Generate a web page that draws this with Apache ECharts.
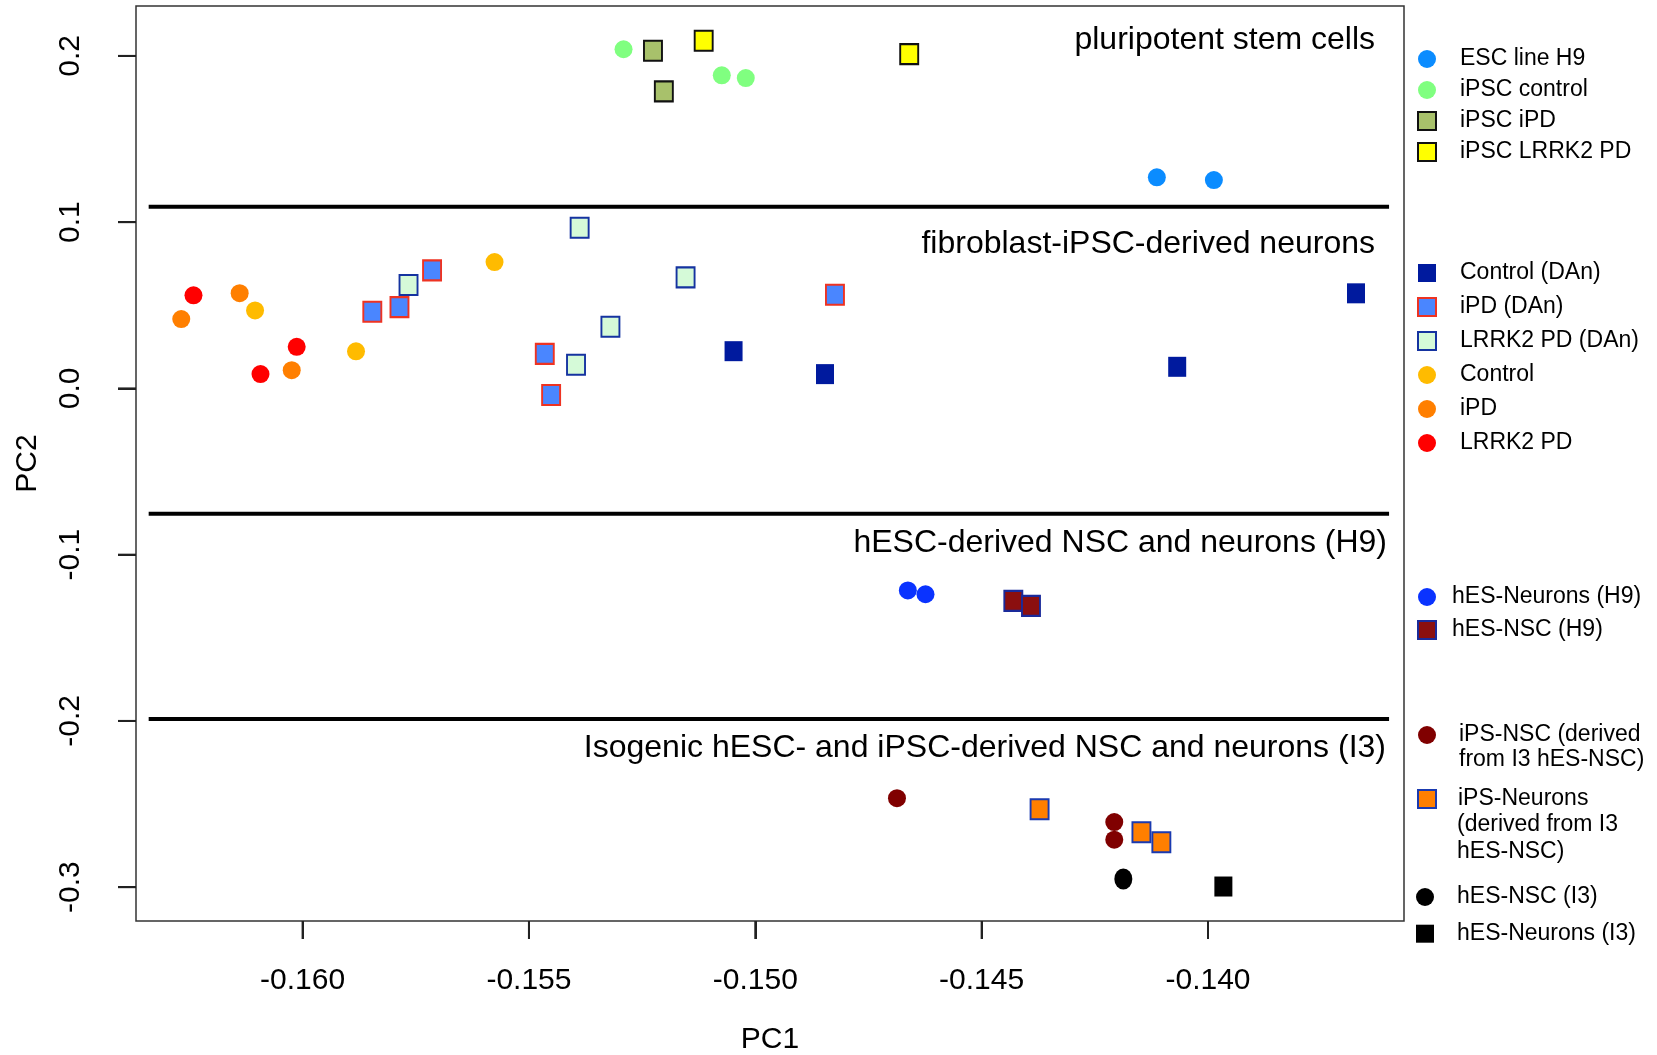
<!DOCTYPE html>
<html>
<head>
<meta charset="utf-8">
<title>PCA</title>
<script src="https://cdn.jsdelivr.net/npm/echarts@6/dist/echarts.min.js"></script>
<style>
  html, body { margin: 0; padding: 0; background: #fff; }
  #chart { width: 1657px; height: 1055px; }
</style>
</head>
<body>
<div id="chart"></div>
<script>
const FONT = '"Liberation Sans", Arial, sans-serif';

// axes
const xTicks = [-0.160, -0.155, -0.150, -0.145, -0.140];
const yTicks = [0.2, 0.1, 0.0, -0.1, -0.2, -0.3];
const xRange = [-0.16368, -0.13567];
const yRange = [-0.32034, 0.23002];

// group separators
const dividerY = [0.1093, -0.0754, -0.1988];
const dividerX = [-0.1634, -0.1360];
const regionNames = [
  'pluripotent stem cells',
  'fibroblast-iPSC-derived neurons',
  'hESC-derived NSC and neurons (H9)',
  'Isogenic hESC- and iPSC-derived NSC and neurons (I3)'
];

// pluripotent stem cells
const escH9 = [[-0.14113, 0.1270], [-0.13987, 0.1253]];
const ipscControl = [[-0.15291, 0.2040], [-0.15074, 0.1883], [-0.15021, 0.1867]];
const ipscIPD = [[-0.15226, 0.2031], [-0.15202, 0.1787]];
const ipscLRRK2 = [[-0.15114, 0.2091], [-0.14660, 0.2011]];
// fibroblast-iPSC-derived neurons
const controlDAn = [[-0.15048, 0.0224], [-0.14846, 0.0086], [-0.14068, 0.0130], [-0.13673, 0.0572]];
const ipdDAn = [[-0.15714, 0.0710], [-0.15846, 0.0461], [-0.15786, 0.0489], [-0.15465, 0.0208], [-0.15451, -0.0040], [-0.14824, 0.0563]];
const lrrk2DAn = [[-0.15388, 0.0966], [-0.15766, 0.0622], [-0.15154, 0.0668], [-0.15320, 0.0371], [-0.15396, 0.0142]];
const control = [[-0.15576, 0.0760], [-0.16105, 0.0469], [-0.15882, 0.0223]];
const ipd = [[-0.16139, 0.0573], [-0.16268, 0.0417], [-0.16024, 0.0110]];
const lrrk2 = [[-0.16241, 0.0560], [-0.16013, 0.0250], [-0.16093, 0.0086]];
// hESC H9
const hesNeuronsH9 = [[-0.14663, -0.1215], [-0.14624, -0.1238]];
const hesNscH9 = [[-0.14430, -0.1278], [-0.14391, -0.1308]];
// isogenic I3
const ipsNsc = [[-0.14687, -0.2465], [-0.14207, -0.2608], [-0.14207, -0.2714]];
const ipsNeurons = [[-0.14372, -0.2531], [-0.14147, -0.2670], [-0.14103, -0.2730]];
const hesNscI3 = [[-0.14187, -0.2951]];
const hesNeuronsI3 = [[-0.13966, -0.2996]];

function pts(name, data, shape, fill, border) {
  return {
    name: name,
    type: 'scatter',
    data: data,
    symbol: shape === 'sq' ? 'rect' : 'circle',
    symbolSize: shape === 'sq' ? [18, 20] : (shape === 'ell' ? [18, 21] : 18),
    itemStyle: {
      color: fill,
      borderColor: border || fill,
      borderWidth: border ? 2 : 0,
      opacity: 1
    }
  };
}

const series = [
  pts('ESC line H9', escH9, 'c', '#0B8CFF'),
  pts('iPSC control', ipscControl, 'c', '#80FF80'),
  pts('iPSC iPD', ipscIPD, 'sq', '#A8C16B', '#111'),
  pts('iPSC LRRK2 PD', ipscLRRK2, 'sq', '#FFFF00', '#111'),
  pts('Control (DAn)', controlDAn, 'sq', '#001A9E'),
  pts('iPD (DAn)', ipdDAn, 'sq', '#4A86FF', '#EE3322'),
  pts('LRRK2 PD (DAn)', lrrk2DAn, 'sq', '#D5FAD8', '#1533A0'),
  pts('Control', control, 'c', '#FFBB00'),
  pts('iPD', ipd, 'c', '#FF7F00'),
  pts('LRRK2 PD', lrrk2, 'c', '#FF0000'),
  pts('hES-Neurons (H9)', hesNeuronsH9, 'c', '#0A33FF'),
  pts('hES-NSC (H9)', hesNscH9, 'sq', '#8B0F0F', '#1A2A9A'),
  pts('iPS-NSC (derived from I3 hES-NSC)', ipsNsc, 'c', '#800000'),
  pts('iPS-Neurons (derived from I3 hES-NSC)', ipsNeurons, 'sq', '#FF7F00', '#1A3AB0'),
  pts('hES-NSC (I3)', hesNscI3, 'ell', '#000000'),
  pts('hES-Neurons (I3)', hesNeuronsI3, 'sq', '#000000')
];

// thick black separators between groups
dividerY.forEach(function (y) {
  series.push({
    type: 'line',
    data: [[dividerX[0], y], [dividerX[1], y]],
    symbol: 'none',
    silent: true,
    lineStyle: { color: '#000', width: 4 }
  });
});

// first line of the legend text, extra lines are drawn below as graphic text
const legendFirstLine = {
  'iPS-NSC (derived from I3 hES-NSC)': 'iPS-NSC (derived',
  'iPS-Neurons (derived from I3 hES-NSC)': 'iPS-Neurons'
};

function mkLegend(left, top, gap, pad, names) {
  return {
    orient: 'vertical',
    left: left,
    top: top,
    padding: 0,
    itemGap: gap,
    itemWidth: 18,
    itemHeight: 18,
    selectedMode: false,
    data: names,
    formatter: function (n) { return legendFirstLine[n] || n; },
    textStyle: { fontFamily: FONT, fontSize: 23, lineHeight: 24, color: '#000', padding: [0, 0, 0, pad] }
  };
}

const texts = [
  { type: 'text', x: 1375, y: 40.6, style: { text: regionNames[0], font: '32px ' + FONT, fill: '#000', align: 'right', verticalAlign: 'middle' } },
  { type: 'text', x: 1375, y: 244, style: { text: regionNames[1], font: '32px ' + FONT, fill: '#000', align: 'right', verticalAlign: 'middle' } },
  { type: 'text', x: 1387, y: 543, style: { text: regionNames[2], font: '32px ' + FONT, fill: '#000', align: 'right', verticalAlign: 'middle' } },
  { type: 'text', x: 1386, y: 748, style: { text: regionNames[3], font: '32px ' + FONT, fill: '#000', align: 'right', verticalAlign: 'middle' } },
  { type: 'text', x: 1459, y: 760, style: { text: 'from I3 hES-NSC)', font: '23px ' + FONT, fill: '#000', verticalAlign: 'middle' } },
  { type: 'text', x: 1457, y: 825, style: { text: '(derived from I3', font: '23px ' + FONT, fill: '#000', verticalAlign: 'middle' } },
  { type: 'text', x: 1457, y: 852, style: { text: 'hES-NSC)', font: '23px ' + FONT, fill: '#000', verticalAlign: 'middle' } }
];

const chart = echarts.init(document.getElementById('chart'));
chart.setOption({
  animation: false,
  grid: {
    show: true,
    left: 136, top: 6, width: 1268, height: 915,
    outerBoundsMode: 'none',
    borderColor: '#333', borderWidth: 1.5
  },
  xAxis: {
    type: 'value',
    min: xRange[0], max: xRange[1],
    name: 'PC1', nameLocation: 'middle', nameGap: 104,
    nameTextStyle: { fontFamily: FONT, fontSize: 30, color: '#000' },
    axisLine: { show: false, onZero: false },
    splitLine: { show: false },
    axisTick: { show: true, customValues: xTicks, length: 18, lineStyle: { color: '#222', width: 2 } },
    axisLabel: {
      customValues: xTicks, margin: 45,
      fontFamily: FONT, fontSize: 30, color: '#000',
      formatter: function (v) { return v.toFixed(3); }
    }
  },
  yAxis: {
    type: 'value',
    min: yRange[0], max: yRange[1],
    name: 'PC2', nameLocation: 'middle', nameGap: 93, nameRotate: 90,
    nameTextStyle: { fontFamily: FONT, fontSize: 30, color: '#000' },
    axisLine: { show: false, onZero: false },
    splitLine: { show: false },
    axisTick: { show: true, customValues: yTicks, length: 18, lineStyle: { color: '#222', width: 2 } },
    axisLabel: {
      customValues: yTicks, margin: 50, rotate: 90,
      fontFamily: FONT, fontSize: 30, color: '#000',
      formatter: function (v) { return v.toFixed(1); }
    }
  },
  legend: [
    mkLegend(1417, 47, 7, 19, ['ESC line H9', 'iPSC control', 'iPSC iPD', 'iPSC LRRK2 PD']),
    mkLegend(1417, 261, 10, 19, ['Control (DAn)', 'iPD (DAn)', 'LRRK2 PD (DAn)', 'Control', 'iPD', 'LRRK2 PD']),
    mkLegend(1417, 585, 9, 11, ['hES-Neurons (H9)', 'hES-NSC (H9)']),
    mkLegend(1418, 723, 0, 18, ['iPS-NSC (derived from I3 hES-NSC)']),
    mkLegend(1417, 787, 0, 17, ['iPS-Neurons (derived from I3 hES-NSC)']),
    mkLegend(1416, 885, 12.7, 18, ['hES-NSC (I3)', 'hES-Neurons (I3)'])
  ],
  graphic: texts,
  series: series
});

// outward tick marks, placed through the grid's coordinate system
const TICK = 18;
const tickMarks = [];
xTicks.forEach(function (v) {
  const p = chart.convertToPixel({ gridIndex: 0 }, [v, yRange[0]]);
  if (p && isFinite(p[0])) {
    tickMarks.push({ type: 'line', z: 100, shape: { x1: p[0], y1: p[1], x2: p[0], y2: p[1] + TICK }, style: { stroke: '#222', lineWidth: 2 } });
  }
});
yTicks.forEach(function (v) {
  const p = chart.convertToPixel({ gridIndex: 0 }, [xRange[0], v]);
  if (p && isFinite(p[1])) {
    tickMarks.push({ type: 'line', z: 100, shape: { x1: p[0] - TICK, y1: p[1], x2: p[0], y2: p[1] }, style: { stroke: '#222', lineWidth: 2 } });
  }
});
chart.setOption({ graphic: texts.concat(tickMarks) });

window.onresize = function () {
  chart.resize();
};
</script>
</body>
</html>
